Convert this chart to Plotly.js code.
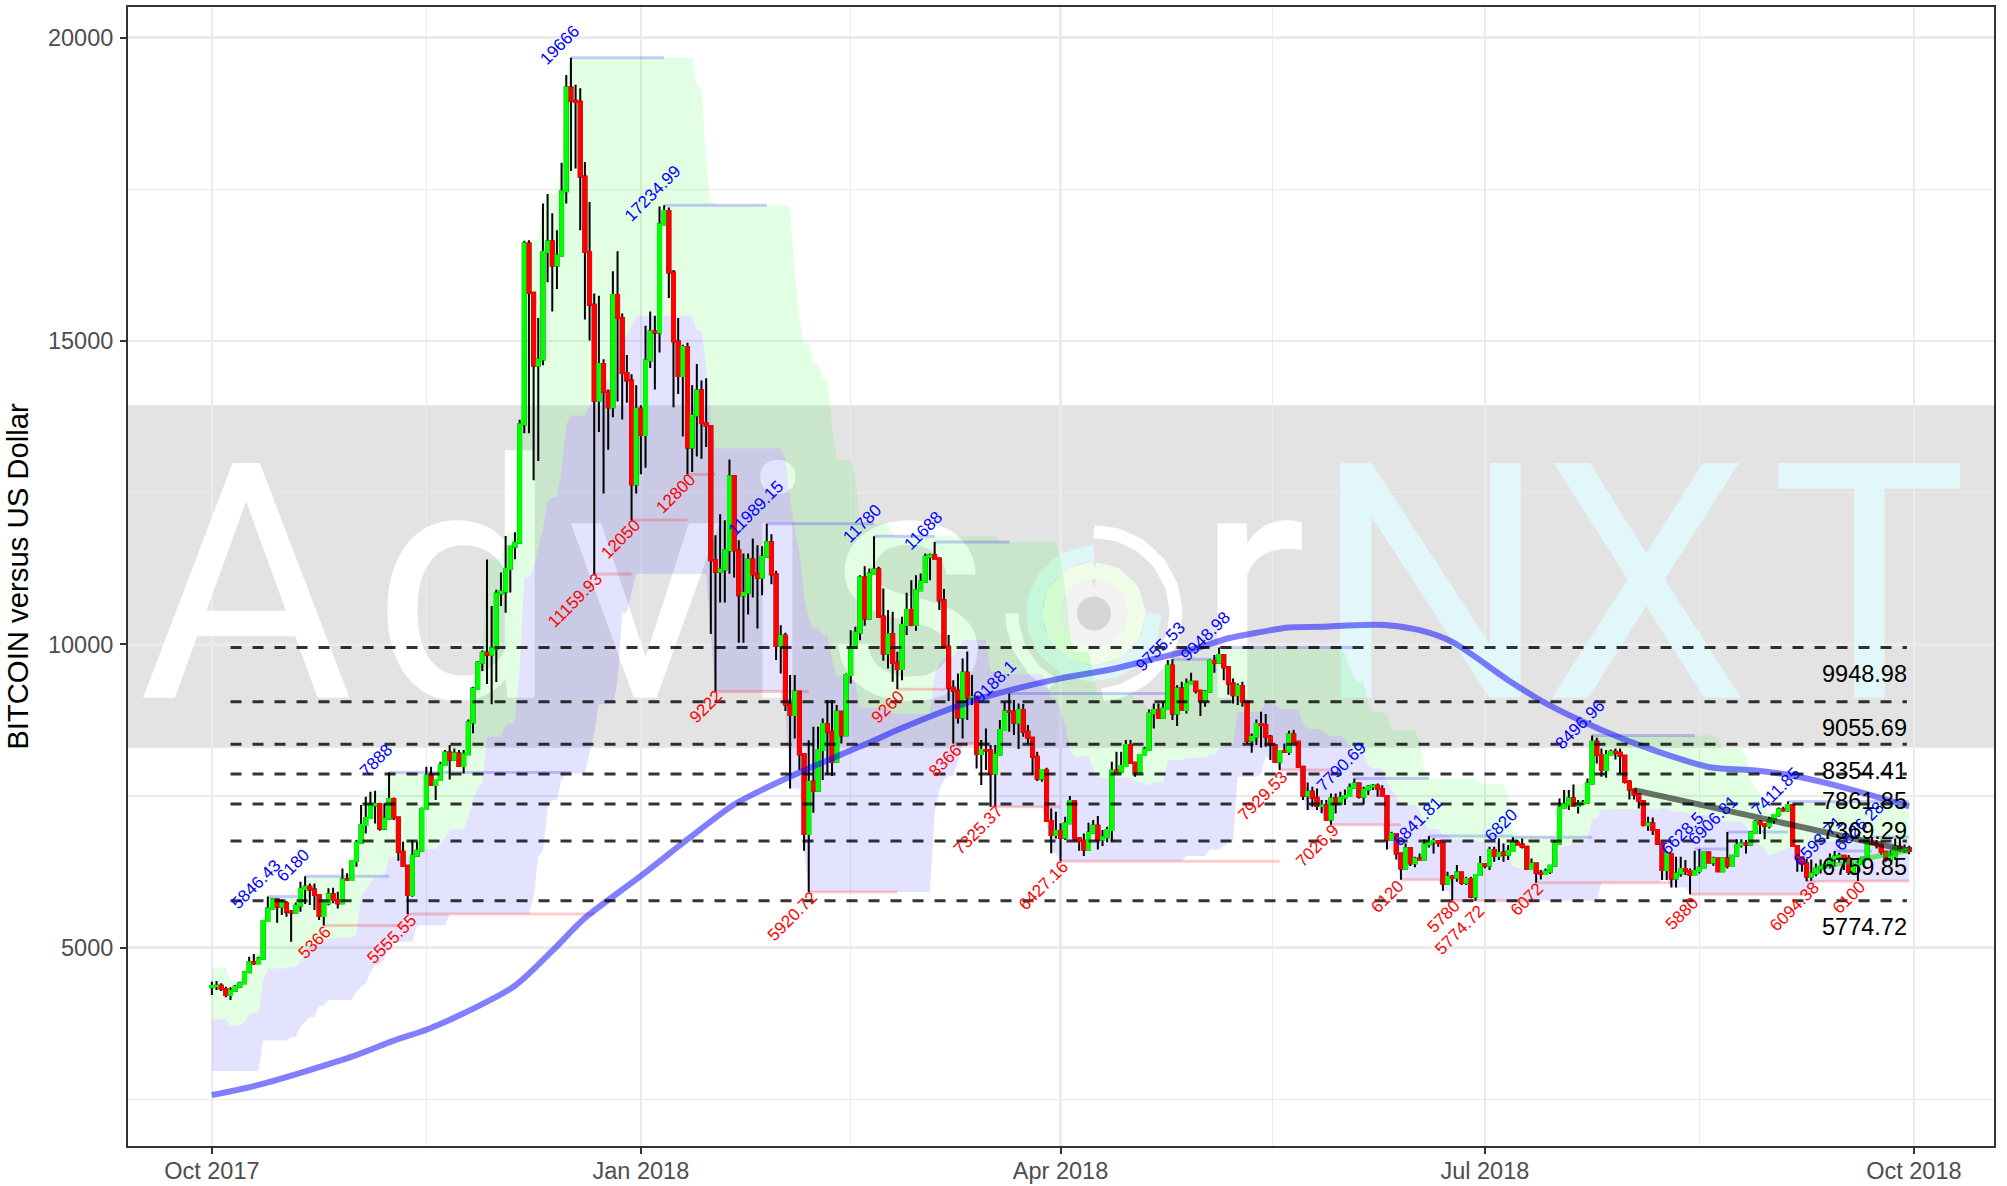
<!DOCTYPE html>
<html>
<head>
<meta charset="utf-8">
<title>BITCOIN versus US Dollar</title>
<script src="https://cdn.plot.ly/plotly-3.0.1.min.js"></script>
<style>html,body{margin:0;padding:0;background:#fff}</style>
</head>
<body>
<div id="chart" style="width:2007px;height:1186px"></div>
<script>
const firstDay = Date.UTC(2017, 9, 1);
const firstOpen = 4348;

const closes = [
4370,4376,4320,4222,4293,4359,4414,4595,4760,4743,4820,5440,5649,5797,5677,5732,5594,5583,5693,5968,6006,5962,5869,5523,5732,5880,5786,5732,6127,6116,6429,
6731,7022,7137,7346,7368,6967,7126,7450,7148,6583,6352,5869,6517,6599,7285,7835,7681,7763,8010,8219,8104,8202,7994,8191,8713,9271,9698,9860,9830,9933,
10838,10870,11240,11610,11676,13625,16604,15795,14596,14692,16465,16640,16244,16406,17465,19178,18958,18943,17708,16465,15597,14015,14618,14163,13905,15758,15376,14471,14346,12640,13883,
13449,14677,15155,15140,16921,17141,16126,14993,14420,14898,13243,13773,14185,13648,13600,11387,11195,11233,11552,12771,11552,10811,10850,11398,11157,11096,11442,11684,11157,9976,10140,
9010,8834,9218,8191,6874,7736,7587,8257,8686,8560,8065,8889,8504,9493,9949,10196,11102,10426,11168,11233,10454,9850,10168,9696,9592,10317,10564,10317,
10893,11030,11442,11470,11415,10728,9960,9284,9235,8795,9532,9125,9136,8192,8258,8250,7873,8186,8587,8895,8890,8708,8917,8560,8461,8148,7791,7928,7088,6857,6923,
6814,7050,7417,6803,6764,6621,6896,7011,6786,6820,6940,7917,7901,7994,8340,8049,7901,8175,8269,8862,8917,8790,8944,9647,8862,9274,8917,9345,9383,9235,
9065,9219,9724,9696,9823,9622,9356,9163,9312,9054,8411,8477,8686,8669,8477,8340,8065,8241,8230,8516,8395,7983,7505,7571,7472,7335,7350,7115,7461,7379,7472,
7500,7637,7708,7489,7610,7653,7670,7615,7500,6786,6874,6555,6308,6638,6391,6473,6456,6703,6747,6758,6725,6061,6171,6155,6242,6072,6132,5841,6198,6380,
6352,6610,6511,6566,6533,6594,6731,6703,6665,6297,6390,6237,6215,6253,6352,6720,7313,7362,7461,7335,7379,7390,7708,8395,8175,7928,8175,8230,8213,8164,7736,
7609,7527,7417,7022,7049,6940,6720,6281,6544,6143,6225,6297,6264,6198,6264,6324,6571,6406,6472,6263,6472,6346,6516,6692,6719,6700,6900,7076,7038,7005,7104,
7186,7279,7268,7351,6675,6489,6390,6170,6225,6308,6335,6362,6472,6500,6516,6472,6252,6362,6380,6483,6730,6720,6692,6582,6456,6510,6664,6620,6640,6600
];
const highs = [
4441,4452,4414,4359,4348,4386,4441,4606,4853,4897,4853,5446,5846.43,5814,5814,5797,5770,5622,5748,6088,6180,6061,6061,5869,5732,5979,5990,5924,6308,6226,6440,
6775,7351,7489,7571,7587,7390,7379,7888,7478,7148,6747,6352,6775,6747,7313,7983,7983,7770,8065,8257,8340,8285,8257,8257,8760,9300,9720,9900,11400,10632,
10900,11184,11787,11625,11846,13699,16650,16660,15795,15376,17266,17421,17104,16825,17935,19384,19666,19223,19164,17950,17288,15780,15744,14700,14200,16148,16479,15450,14770,14450,14270,
13940,15251,15486,15413,17215,17234.99,17200,16170,15376,14935,14971,14270,14618,14346,14383,13600,11799,12145,12046,13045,12771,11717,11497,11497,11744,11634,11618,11989.15,11816,11211,10316,
10190,9493,9493,9218,8191,8420,8642,8642,8780,9081,9081,8999,8889,9520,10234,10289,11140,11288,11250,11780,11278,10920,10564,10536,9877,10454,10849,11058,
11140,11168,11497,11497,11688,11415,10910,10152,9410,9520,9767,9882,9493,9136,8422,8615,8340,8340,8752,9054,9188.1,9081,9026,9015,8670,8450,8230,7928,7967,7297,7242,
7050,7160,7500,7417,6803,6885,7060,7105,7170,6940,6995,8066,8230,8230,8423,8423,8066,8175,8313,8928,9026,9026,9054,9740,9755.53,9328,9383,9438,9531,9383,
9235,9246,9751,9823,9948.98,9840,9622,9438,9356,9383,9000,8532,8763,8889,8851,8505,8340,8241,8367,8576,8587,8395,7983,7725,7653,7626,7434,7434,7543,7543,7571,
7609,7708,7790.69,7708,7653,7681,7700,7708,7680,7489,6912,6885,6555,6720,6638,6500,6555,6786,6841.81,6803,6775,6709,6253,6199,6363,6242,6171,6171,6198,6511,
6380,6665,6665,6802,6720,6692,6820,6775,6802,6676,6473,6374,6281,6308,6363,6775,7461,7598,7598,7692,7434,7434,7790,8496.96,8460,8285,8257,8268,8285,8285,8159,
7763,7626,7527,7406,7159,7148,6929,6709,6583,6539,6500,6500,6445,6308,6600,6628.5,6582,6582,6500,6483,6483,6906.81,6527,6790,6790,6774,6922,7104,7104,7049,7159,
7200,7312,7323,7411.85,7351,6675,6489,6467,6456,6390,6456,6400,6554,6593.71,6565,6527,6527,6390,6472,6500,6774,6826.28,6774,6720,6582,6609,6801,6801,6700,6680
];
const lows = [
4221,4304,4287,4183,4139,4276,4359,4414,4589,4716,4732,4820,5440,5649,5413,5539,5512,5100,5567,5594,5720,5704,5622,5457,5366,5700,5732,5649,5720,6100,6116,
6335,6747,6885,7130,7049,6929,6940,7126,7104,6434,6340,5555.55,5841,6500,6599,7285,7670,7434,7763,8000,7774,8104,7983,7873,8190,8536,9271,9560,9345,9014,
9381,10632,10522,10853,11404,11676,13478,13478,12706,13022,14600,15965,15486,15854,16406,17266,17800,17840,16825,15354,15008,11159.93,13500,12485,13206,13743,14000,13706,13980,12050,12485,
12802,12912,14552,14200,14810,16900,15707,13905,14126,13427,12800,12839,13096,13059,13250,10169,9222,10690,10690,11164,11102,10025,10025,10492,10772,10262,10811,11442,10992,9740,9520,
8900,7626,8449,7928,6599,5920.72,7225,7587,7764,7846,7830,8065,8367,8504,9356,10042,10069,10305,10426,11168,10450,9729,9602,9383,9260,9410,10152,10300,
10223,10920,11030,11058,11410,10564,9960,9065,8366,8697,8450,8752,9000,7956,7681,7930,7325.37,7325,8200,8587,8560,8505,8274,8478,8368,7846,7747,7736,7077,6556,6800,
6427.16,6776,7050,6765,6600,6511,6621,6896,6621,6676,6740,6760,7901,7875,7994,8038,7819,7874,8159,8269,8615,8790,8780,8944,8752,8653,8917,8862,9345,9191,
8818,8972,9219,9532,9696,9410,9170,9026,9000,8971,8368,8214,8340,8302,8313,8093,8050,7929.53,8225,8175,8395,7980,7434,7269,7324,7269,7215,7094,7026.9,7214,7379,
7351,7489,7626,7460,7362,7516,7600,7489,7489,6621,6775,6456,6120,6308,6347,6325,6445,6456,6654,6555,6665,5940,6061,5780,6089,6034,6034,5814,5774.72,6198,
6309,6280,6418,6445,6418,6445,6583,6692,6637,6281,6281,6072,6127,6198,6215,6352,6720,7313,7269,7323,7214,7351,7390,7708,8038,7818,7802,8175,8104,7862,7708,
7445,7445,7296,7000,6929,6857,6692,6116,6116,5995,5995,6171,6198,5880,6198,6225,6307,6390,6351,6247,6252,6307,6335,6516,6653,6554,6681,6900,6873,6790,6966,
7049,7159,7241,7241,6664,6253,6252,6094.38,6104,6180,6225,6300,6307,6335,6400,6280,6198,6225,6100,6362,6483,6692,6637,6527,6417,6417,6445,6582,6560,6540
];

const channelTopDays = [0,4,6,7,8,9,11,12,20,32,33,34,35,38,49,50,51,55,56,57,58,59,63,64,66,67,68,71,72,75,76,77,104,105,106,107,108,124,125,126,127,129,131,133,134,138,139,146,147,169,182,183,184,185,189,190,198,199,200,201,202,204,205,206,216,243,244,245,246,248,249,252,253,259,260,261,272,277,278,279,280,281,288,289,290,292,295,296,323,324,329,330,331,332,333,334,335,336,337,338];
const channelTopValues = [4672,4450,4452,4606,4853,4897,5446,5846.43,6180,7351,7489,7571,7587,7888,8065,8257,8340,8760,9300,9720,9900,11400,11787,11846,13699,16650,16660,17266,17421,17935,19384,19666,19223,19164,17950,17288,17234.99,17200,16170,15376,14971,14618,14383,13600,13045,12771,11989.15,11816,11780,11688,11415,10910,10152,9882,9493,9188.1,9081,9026,9015,8930,9026,9054,9740,9755.53,9948.98,9840,9622,9438,9383,9000,8889,8851,8587,8395,7983,7790.69,7708,7680,7489,6912,6885,6841.81,6820,7461,7598,7692,7790,8496.96,8460,8285,8159,7763,7626,7527,7406,7159,7200,7312,7323,7411.85];
const channelLowDays = [0,11,17,19,20,21,23,25,31,32,33,34,35,36,37,38,44,51,69,70,71,72,73,75,76,81,82,83,87,88,90,91,107,108,123,124,127,128,155,156,157,158,160,161,167,179,180,182,209,214,217,218,219,220,225,226,227,228,229,234,235,238,239,240,252,254,255,264,266,271,298,311,313,317,344];
const channelLowValues = [2970,3470,3530,3700,3780,3860,4045,4139,4276,4359,4414,4589,4716,4732,4820,5100,5366,5555.55,5841,6500,6599,7285,7434,7763,7873,8190,8536,9014,9381,10522,10853,11159.93,10169,9222,8900,7626,6599,5920.72,7225,7587,7764,7830,8065,8366,7325.37,7077,6556,6427.16,6511,6621,6676,6740,6760,7819,7874,8159,8093,8050,7929.53,7434,7269,7215,7094,7026.9,6621,6456,6120,5940,5780,5774.72,6072,6116,5995,5880,6094.38];

const avgDays = [0,10,30,39,46,54,65,73,80,92,102,112,119,126,133,140,148,155,162,171,182,193,201,211,218,224,231,238,245,252,259,266,278,286,298,309,321,331,338,349,364];
const avgValues = [2574,2740,3206,3470,3650,3920,4375,4950,5490,6183,6785,7360,7640,7890,8120,8350,8620,8840,9040,9240,9440,9590,9740,9930,10100,10190,10278,10288,10316,10316,10233,10040,9410,9030,8590,8260,7980,7920,7850,7660,7330];

const trendDays = [305,364];
const trendValues = [7598,6598];
const shortTrendDays = [344,364];
const shortTrendValues = [6308,6612];

const levels = [9948.98,9055.69,8354.41,7861.85,7369.29,6759.85,5774.72];
const levelLabels = ["9948.98","9055.69","8354.41","7861.85","7369.29","6759.85","5774.72"];

const highLabels = ["19666","5846.43","6180","7888","17234.99","11989.15","11780","11688","9188.1","9755.53","9948.98","7790.69","6841.81","6820","8496.96","6628.5","6906.81","7411.85","6593.71","6826.28"];
const highLabelDays = [74.5,9.4,17.4,35.2,94.5,116.6,139.5,152.6,168,203.5,213.1,242.3,258.6,276.4,293.4,315.3,321.9,335.5,344.5,353.3];
const highLabelValues = [19875,6049,6363,8092,17433,12244,11997,11881,9382,9959,10124,7982,7076,7021,8685,6890,7104,7570,6746,6993];
const lowLabels = ["5366","5555.55","11159.93","12050","12800","9222","5920.72","9260","8366","7325.37","6427.16","7929.53","7026.9","6120","5780","5774.72","6072","5880","6094.38","6100"];
const lowLabelDays = [22.1,38.5,77.9,87.6,99.5,106,124.5,145.1,157.3,164.3,178.4,225.3,237.1,252.1,264.2,267.5,282,315.3,339.5,351.1];
const lowLabelValues = [5082,5143,10722,11733,12491,8977,5511,8970,8092,6928,6021,7499,6692,5852,5511,5292,5797,5567,5676,5830];

const resistanceFrom = [12,20,38,77,97,119,142,155,171,206,216,245,261,279,296,318,325,338,348,356];
const resistanceTo = [20,38,77,97,119,142,155,171,206,216,245,261,279,296,318,325,338,364,356,364];
const resistanceLevel = [5846.43,6180,7888,19666,17234.99,11989.15,11780,11688,9188.1,9755.53,9948.98,7790.69,6841.81,6820,8496.96,6628.5,6906.81,7411.85,6593.71,6826.28];
const supportFrom = [24,42,82,90,102,108,128,147,159,167,182,229,240,255,266,271,284,317,342,353];
const supportTo = [42,82,90,102,108,128,147,159,167,182,229,240,255,266,271,284,313,342,353,364];
const supportLevel = [5366,5555.55,11159.93,12050,12800,9222,5920.72,9260,8366,7325.37,6427.16,7929.53,7026.9,6120,5780,5774.72,6072,5880,6094.38,6100];

const xTickDays = [0,92,182,273,365];
const xTickText = ["Oct 2017","Jan 2018","Apr 2018","Jul 2018","Oct 2018"];
const xMinorDays = [46,137,227.5,319];
const yTicks = [5000,10000,15000,20000];
const yMinor = [2500,7500,12500,17500];

const watermarkLetters = ["A","d","v","i","s","r","N","X","T"];
const watermarkPixelX = [246,465,645,777,908,1250,1430,1645,1868];

const dayMs = 86400000;
const toDate = d => new Date(firstDay + d * dayMs).toISOString().slice(0, 19);
const hold = (days, values, n) => {
  const out = []; let k = 0;
  for (let i = 0; i < n; i++) { while (k + 1 < days.length && days[k + 1] <= i) k++; out.push(values[k]); }
  return out;
};
const n = closes.length;
const dayIndex = closes.map((_, i) => i);
const dates = dayIndex.map(toDate);
const opens = [firstOpen].concat(closes.slice(0, -1));
const bodyTop = opens.map((o, i) => Math.max(o, closes[i]));
const bodyBottom = opens.map((o, i) => Math.min(o, closes[i]));
const channelTop = hold(channelTopDays, channelTopValues, n);
const channelLow = hold(channelLowDays, channelLowValues, n);
const channelMid = channelTop.map((t, i) => (t + channelLow[i]) / 2);

// pixel <-> data helpers used only for the watermark artwork
const pxToDay = px => (px - 211.8) / 4.66;
const pyToVal = py => 20000 - (py - 37.2) / 0.0607;

const segments = (from, to, lev) => {
  const x = [], y = [];
  from.forEach((f, i) => { x.push(toDate(f), toDate(to[i]), null); y.push(lev[i], lev[i], null); });
  return {x, y};
};
const polygon = (upper, lower) => ({
  x: dates.concat(dates.slice().reverse()),
  y: upper.concat(lower.slice().reverse())
});

const traces = [];
// watermark arcs
const logoC = [1093.3, 613.3];
const arc = (r, a0, a1, w, color) => {
  const x = [], y = [];
  for (let a = a0; a <= a1; a += 3) {
    const t = a * Math.PI / 180;
    x.push(toDate(pxToDay(logoC[0] + r * Math.sin(t))));
    y.push(pyToVal(logoC[1] - r * Math.cos(t)));
  }
  traces.push({type:'scatter', mode:'lines', x, y, line:{color, width:w}, hoverinfo:'skip', showlegend:false, zorder:0});
};
arc(26, 0, 360, 18, 'rgb(242,242,242)');
arc(43, 0, 360, 17, 'rgb(238,252,232)');
arc(60, 90, 360, 16, 'rgb(222,246,246)');
arc(82, 0, 175, 13, 'rgb(255,255,255)');
arc(82, 210, 270, 13, 'rgb(255,255,255)');
traces.push({type:'scatter', mode:'markers', x:[toDate(pxToDay(logoC[0]))], y:[pyToVal(logoC[1])],
  marker:{size:34, color:'rgb(214,214,214)'}, hoverinfo:'skip', showlegend:false, zorder:0});
traces.push({type:'scatter', mode:'text',
  x: watermarkPixelX.map(p => toDate(pxToDay(p))),
  y: watermarkLetters.map(() => 10480),
  text: watermarkLetters, textposition:'middle center',
  textfont:{family:'Roboto', size:330, weight:400,
    color: watermarkLetters.map((_, i) => i >= 6 ? 'rgb(225,247,250)' : 'rgb(255,255,255)')},
  hoverinfo:'skip', showlegend:false, cliponaxis:true, zorder:0});

// channel ribbons
traces.push(Object.assign({type:'scatter', mode:'lines', fill:'toself', fillcolor:'rgba(0,255,0,0.11)',
  line:{width:0}, hoverinfo:'skip', showlegend:false, zorder:1}, polygon(channelTop, channelMid)));
traces.push(Object.assign({type:'scatter', mode:'lines', fill:'toself', fillcolor:'rgba(0,0,255,0.11)',
  line:{width:0}, hoverinfo:'skip', showlegend:false, zorder:1}, polygon(channelMid, channelLow)));
// swing levels
traces.push(Object.assign({type:'scatter', mode:'lines', line:{color:'rgba(0,0,255,0.2)', width:3},
  hoverinfo:'skip', showlegend:false, zorder:1}, segments(resistanceFrom, resistanceTo, resistanceLevel)));
traces.push(Object.assign({type:'scatter', mode:'lines', line:{color:'rgba(255,0,0,0.2)', width:3},
  hoverinfo:'skip', showlegend:false, zorder:1}, segments(supportFrom, supportTo, supportLevel)));

// candles: wicks first, coloured bodies over them
traces.push({type:'candlestick', x:dates, open:opens, close:closes, high:highs, low:lows,
  increasing:{line:{color:'#000', width:2}, fillcolor:'rgba(0,0,0,0)'},
  decreasing:{line:{color:'#000', width:2}, fillcolor:'rgba(0,0,0,0)'},
  whiskerwidth:0, showlegend:false, hoverinfo:'skip', zorder:2});
traces.push({type:'candlestick', x:dates, open:opens, close:closes, high:bodyTop, low:bodyBottom,
  increasing:{line:{color:'#00FF00', width:2}, fillcolor:'#00FF00'},
  decreasing:{line:{color:'#FF0000', width:2}, fillcolor:'#FF0000'},
  whiskerwidth:0, showlegend:false, zorder:3});

traces.push({type:'scatter', mode:'lines', x:avgDays.map(toDate), y:avgValues,
  line:{color:'rgba(0,0,255,0.5)', width:6, shape:'spline', smoothing:0.8}, hoverinfo:'skip', showlegend:false, zorder:4});
traces.push({type:'scatter', mode:'lines', x:trendDays.map(toDate), y:trendValues,
  line:{color:'rgba(0,0,0,0.55)', width:6}, hoverinfo:'skip', showlegend:false, zorder:4});
traces.push({type:'scatter', mode:'lines', x:shortTrendDays.map(toDate), y:shortTrendValues,
  line:{color:'rgba(0,220,0,0.55)', width:5}, hoverinfo:'skip', showlegend:false, zorder:4});
levels.forEach(l => traces.push({type:'scatter', mode:'lines', x:[toDate(4), toDate(363.5)], y:[l, l],
  line:{color:'rgba(0,0,0,0.8)', width:3, dash:'11px,11px'}, hoverinfo:'skip', showlegend:false, zorder:5}));

const annotations = [];
const smallFont = '"Liberation Sans", Arial, sans-serif';
highLabels.forEach((t, i) => annotations.push({x:toDate(highLabelDays[i]), y:highLabelValues[i], text:t, showarrow:false,
  textangle:-45, xanchor:'center', yanchor:'middle', font:{family:smallFont, size:17, color:'#0000FF'}}));
lowLabels.forEach((t, i) => annotations.push({x:toDate(lowLabelDays[i]), y:lowLabelValues[i], text:t, showarrow:false,
  textangle:-45, xanchor:'center', yanchor:'middle', font:{family:smallFont, size:17, color:'#FF0000'}}));
levelLabels.forEach((t, i) => annotations.push({x:toDate(364), y:levels[i] - 437, text:t, showarrow:false,
  xanchor:'right', yanchor:'middle', font:{family:smallFont, size:23.5, color:'#000'}}));

const layout = {
  width:2007, height:1186, autosize:false,
  margin:{l:127, r:12, t:5.5, b:39},
  paper_bgcolor:'#fff', plot_bgcolor:'#fff',
  showlegend:false, hovermode:false, boxmode:'overlay', boxgap:0.36, boxgroupgap:0,
  font:{family:smallFont},
  xaxis:{type:'date', range:[toDate(-18.2), toDate(382.4)], rangeslider:{visible:false},
    tickmode:'array', tickvals:xTickDays.map(toDate), ticktext:xTickText,
    tickfont:{size:23.5, color:'#4D4D4D'}, ticks:'outside', ticklen:6, tickwidth:2, tickcolor:'#333',
    ticklabelstandoff:-3,
    showgrid:true, gridcolor:'#EBEBEB', gridwidth:2.6,
    minor:{tickmode:'array', tickvals:xMinorDays.map(toDate), showgrid:true, gridcolor:'#EBEBEB', gridwidth:1.3, ticks:''},
    showline:false, zeroline:false},
  yaxis:{range:[1717, 20519],
    tickmode:'array', tickvals:yTicks, ticktext:yTicks.map(String),
    tickfont:{size:23.5, color:'#4D4D4D'}, ticks:'outside', ticklen:6, tickwidth:2, tickcolor:'#333',
    ticklabelstandoff:2,
    showgrid:true, gridcolor:'#EBEBEB', gridwidth:2.6,
    minor:{tickmode:'array', tickvals:yMinor, showgrid:true, gridcolor:'#EBEBEB', gridwidth:1.3, ticks:''},
    showline:false, zeroline:false,
    title:{text:'BITCOIN versus US Dollar', font:{size:29.3, color:'#000'}, standoff:10}},
  shapes:[
    {type:'rect', layer:'between', xref:'paper', yref:'y', x0:0, x1:1, y0:pyToVal(747.7), y1:pyToVal(405),
     fillcolor:'rgba(0,0,0,0.11)', line:{width:0}},
    {type:'rect', layer:'above', xref:'paper', yref:'paper', x0:0, x1:1, y0:0, y1:1,
     fillcolor:'rgba(0,0,0,0)', line:{color:'#333', width:2}}
  ],
  annotations
};
Plotly.newPlot('chart', traces, layout, {displayModeBar:false, staticPlot:true});
</script>
</body>
</html>
